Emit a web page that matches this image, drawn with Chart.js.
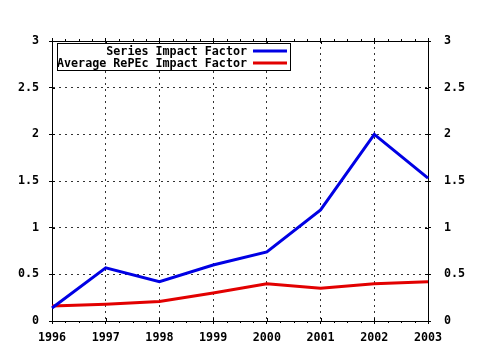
<!DOCTYPE html>
<html>
<head>
<meta charset="utf-8">
<script src="https://cdn.jsdelivr.net/npm/chart.js@4/dist/chart.umd.min.js"></script>
<style>
  html, body { margin: 0; padding: 0; background: #fff; }
  #wrap { width: 480px; height: 350px; }
</style>
</head>
<body>
<div id="wrap"><canvas id="c" width="480" height="350"></canvas></div>
<script>
// Yearly impact factors
const years = [1996, 1997, 1998, 1999, 2000, 2001, 2002, 2003];
const seriesImpact = [0.14, 0.57, 0.42, 0.60, 0.74, 1.19, 2.00, 1.53];
const averageRePEc = [0.16, 0.18, 0.21, 0.30, 0.40, 0.35, 0.40, 0.42];
const seriesNames = ['Series Impact Factor', 'Average RePEc Impact Factor'];
const yTicks = [0, 0.5, 1, 1.5, 2, 2.5, 3];

const BLUE = 'rgb(0,0,228)';
const RED = 'rgb(226,0,0)';
const FONT = { family: '"DejaVu Sans Mono", "Liberation Mono", monospace', size: 11.7, weight: 'bold' };

// Small solid tick marks across the frame (majors cross the axis, minors sit outside)
const frameTicks = {
  id: 'frameTicks',
  afterDraw(chart) {
    const { ctx, chartArea: a, scales } = chart;
    const x = scales.x, y = scales.y;
    ctx.save();
    ctx.strokeStyle = '#000';
    ctx.lineWidth = 1;
    ctx.beginPath();
    for (let v = years[0]; v <= years[years.length - 1] + 1e-9; v += 0.25) {
      const px = Math.round(x.getPixelForValue(v)) + 0.5;
      const major = Math.abs(v - Math.round(v)) < 1e-9;
      if (major) {
        ctx.moveTo(px, a.bottom); ctx.lineTo(px, a.bottom - 3);
        ctx.moveTo(px, a.top); ctx.lineTo(px, a.top + 3);
      } else {
        ctx.moveTo(px, a.bottom); ctx.lineTo(px, a.bottom + 2);
        ctx.moveTo(px, a.top); ctx.lineTo(px, a.top - 2);
      }
    }
    yTicks.forEach(v => {
      const py = Math.round(y.getPixelForValue(v)) + 0.5;
      ctx.moveTo(a.left, py); ctx.lineTo(a.left + 3, py);
      ctx.moveTo(a.right, py); ctx.lineTo(a.right - 3, py);
    });
    ctx.stroke();
    ctx.restore();
  }
};

// Boxed key in the upper left: right-aligned names followed by a line sample
const boxedKey = {
  id: 'boxedKey',
  afterDraw(chart) {
    const { ctx, chartArea: a } = chart;
    const left = a.left + 5.5, top = a.top + 2.5, right = 290.5, bottom = 70.5;
    ctx.save();
    ctx.fillStyle = '#fff';
    ctx.fillRect(left, top, right - left, bottom - top);
    ctx.strokeStyle = '#000';
    ctx.lineWidth = 1;
    ctx.strokeRect(left, top, right - left, bottom - top);
    ctx.font = `${FONT.weight} ${FONT.size}px ${FONT.family}`;
    ctx.textAlign = 'right';
    ctx.textBaseline = 'middle';
    const rows = [51, 63];
    chart.data.datasets.forEach((ds, i) => {
      ctx.fillStyle = '#000';
      ctx.fillText(ds.label, 247, rows[i] + 1);
      ctx.strokeStyle = ds.borderColor;
      ctx.lineWidth = 3;
      ctx.beginPath();
      ctx.moveTo(253, rows[i]);
      ctx.lineTo(287, rows[i]);
      ctx.stroke();
    });
    ctx.restore();
  }
};

const toPoints = vals => years.map((yr, i) => ({ x: yr, y: vals[i] }));

const gridOpts = { color: '#333', lineWidth: 1, tickLength: 3, tickColor: '#000' };
const borderOpts = { color: '#000', width: 1, dash: [2, 4] };

new Chart(document.getElementById('c'), {
  type: 'line',
  data: {
    datasets: [
      { label: seriesNames[0], data: toPoints(seriesImpact), borderColor: BLUE, backgroundColor: BLUE,
        borderWidth: 3, pointRadius: 0, tension: 0, clip: false },
      { label: seriesNames[1], data: toPoints(averageRePEc), borderColor: RED, backgroundColor: RED,
        borderWidth: 3, pointRadius: 0, tension: 0, clip: false }
    ]
  },
  options: {
    responsive: false,
    animation: false,
    devicePixelRatio: 1,
    layout: { padding: 0 },
    plugins: { legend: { display: false }, tooltip: { enabled: false } },
    scales: {
      x: {
        type: 'linear', position: 'bottom', min: years[0], max: years[years.length - 1],
        afterFit: s => { s.height = 29; },
        afterBuildTicks: s => { s.ticks = years.map(v => ({ value: v })); },
        ticks: { font: FONT, color: '#000', padding: 7, maxRotation: 0, autoSkip: false, callback: v => String(v) },
        grid: gridOpts, border: borderOpts
      },
      xTop: {
        type: 'linear', position: 'top', min: years[0], max: years[years.length - 1],
        afterFit: s => { s.height = 41; },
        afterBuildTicks: s => { s.ticks = years.map(v => ({ value: v })); },
        ticks: { display: true, color: 'rgba(0,0,0,0)', font: FONT, callback: v => String(v) },
        grid: Object.assign({}, gridOpts, { drawOnChartArea: false }), border: { color: '#000', width: 1 }
      },
      y: {
        type: 'linear', position: 'left', min: 0, max: 3,
        afterFit: s => { s.width = 52; },
        afterBuildTicks: s => { s.ticks = yTicks.map(v => ({ value: v })); },
        ticks: { font: FONT, color: '#000', padding: 10, callback: v => String(v) },
        grid: gridOpts, border: borderOpts
      },
      yRight: {
        type: 'linear', position: 'right', min: 0, max: 3,
        afterFit: s => { s.width = 52; },
        afterBuildTicks: s => { s.ticks = yTicks.map(v => ({ value: v })); },
        ticks: { font: FONT, color: '#000', padding: 13, callback: v => String(v) },
        grid: Object.assign({}, gridOpts, { drawOnChartArea: false }), border: { color: '#000', width: 1 }
      }
    }
  },
  plugins: [frameTicks, boxedKey]
});
</script>
</body>
</html>
